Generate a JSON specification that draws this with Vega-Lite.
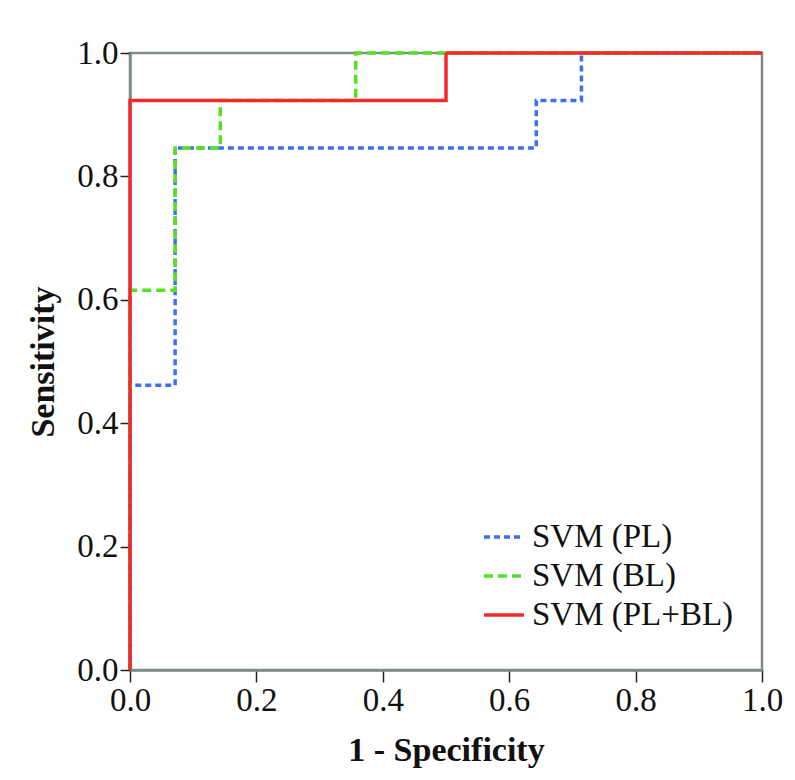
{
  "$schema": "https://vega.github.io/schema/vega-lite/v6.json",
  "width": 632,
  "height": 617,
  "autosize": {"type": "none"},
  "padding": {"left": 130, "top": 53, "right": 33, "bottom": 110},
  "background": "white",
  "config": {
    "font": "Liberation Serif",
    "view": {"stroke": "#7f8a8a", "strokeWidth": 2.5},
    "axis": {"grid": false}
  },
  "data": {
    "values": [
      {"series": "SVM (PL)", "o": 1, "x": 0, "y": 0},
      {"series": "SVM (PL)", "o": 2, "x": 0, "y": 0.4615},
      {"series": "SVM (PL)", "o": 3, "x": 0.0714, "y": 0.4615},
      {"series": "SVM (PL)", "o": 4, "x": 0.0714, "y": 0.8462},
      {"series": "SVM (PL)", "o": 5, "x": 0.6429, "y": 0.8462},
      {"series": "SVM (PL)", "o": 6, "x": 0.6429, "y": 0.9231},
      {"series": "SVM (PL)", "o": 7, "x": 0.7143, "y": 0.9231},
      {"series": "SVM (PL)", "o": 8, "x": 0.7143, "y": 1},
      {"series": "SVM (PL)", "o": 9, "x": 1, "y": 1},
      {"series": "SVM (BL)", "o": 1, "x": 0, "y": 0},
      {"series": "SVM (BL)", "o": 2, "x": 0, "y": 0.6154},
      {"series": "SVM (BL)", "o": 3, "x": 0.0714, "y": 0.6154},
      {"series": "SVM (BL)", "o": 4, "x": 0.0714, "y": 0.8462},
      {"series": "SVM (BL)", "o": 5, "x": 0.1429, "y": 0.8462},
      {"series": "SVM (BL)", "o": 6, "x": 0.1429, "y": 0.9231},
      {"series": "SVM (BL)", "o": 7, "x": 0.3571, "y": 0.9231},
      {"series": "SVM (BL)", "o": 8, "x": 0.3571, "y": 1},
      {"series": "SVM (BL)", "o": 9, "x": 1, "y": 1},
      {"series": "SVM (PL+BL)", "o": 1, "x": 0, "y": 0},
      {"series": "SVM (PL+BL)", "o": 2, "x": 0, "y": 0.9231},
      {"series": "SVM (PL+BL)", "o": 3, "x": 0.5, "y": 0.9231},
      {"series": "SVM (PL+BL)", "o": 4, "x": 0.5, "y": 1},
      {"series": "SVM (PL+BL)", "o": 5, "x": 1, "y": 1}
    ]
  },
  "mark": {"type": "line", "clip": false},
  "encoding": {
    "x": {
      "field": "x", "type": "quantitative",
      "scale": {"domain": [0, 1], "nice": false, "zero": false},
      "axis": {
        "title": "1 - Specificity", "values": [0, 0.2, 0.4, 0.6, 0.8, 1], "format": ".1f",
        "labelFont": "Liberation Serif", "labelFontSize": 33, "labelColor": "#111",
        "titleFont": "Liberation Serif", "titleFontSize": 34, "titleFontWeight": "bold", "titleColor": "#111",
        "titlePadding": 16,
        "domainColor": "#7f8a8a", "domainWidth": 2.5,
        "tickColor": "#222", "tickWidth": 1.5, "tickSize": 12, "labelPadding": 2,
        "labelFlush": false
      }
    },
    "y": {
      "field": "y", "type": "quantitative",
      "scale": {"domain": [0, 1], "nice": false, "zero": false},
      "axis": {
        "title": "Sensitivity", "values": [0, 0.2, 0.4, 0.6, 0.8, 1], "format": ".1f",
        "labelFont": "Liberation Serif", "labelFontSize": 33, "labelColor": "#111",
        "titleFont": "Liberation Serif", "titleFontSize": 34, "titleFontWeight": "bold", "titleColor": "#111",
        "titlePadding": 16,
        "domainColor": "#7f8a8a", "domainWidth": 2.5,
        "tickColor": "#222", "tickWidth": 1.5, "tickSize": 10, "labelPadding": 2,
        "labelFlush": false
      }
    },
    "order": {"field": "o", "type": "quantitative"},
    "color": {
      "field": "series", "type": "nominal",
      "scale": {
        "domain": ["SVM (PL)", "SVM (BL)", "SVM (PL+BL)"],
        "range": ["#3f6ef2", "#55e022", "#f42a2a"]
      },
      "legend": {
        "title": null,
        "orient": "none",
        "legendX": 352,
        "legendY": 462,
        "symbolType": "stroke",
        "symbolSize": 1600,
        "symbolStrokeWidth": 3.5,
        "labelFont": "Liberation Serif",
        "labelFontSize": 33,
        "labelColor": "#111",
        "labelOffset": 6,
        "rowPadding": 0,
        "labelLimit": 400
      }
    },
    "strokeDash": {
      "field": "series", "type": "nominal",
      "scale": {
        "domain": ["SVM (PL)", "SVM (BL)", "SVM (PL+BL)"],
        "range": [[6, 4], [9, 5], [1, 0]]
      }
    },
    "strokeWidth": {
      "field": "series", "type": "nominal",
      "scale": {
        "domain": ["SVM (PL)", "SVM (BL)", "SVM (PL+BL)"],
        "range": [3.5, 3.5, 4]
      },
      "legend": null
    }
  }
}
